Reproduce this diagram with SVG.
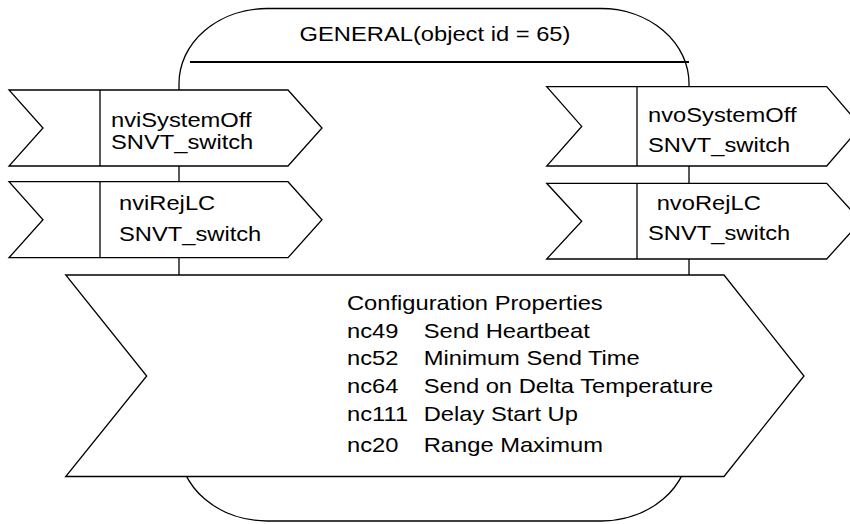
<svg xmlns="http://www.w3.org/2000/svg" width="850" height="524" viewBox="0 0 850 524">
  <style>
    .edge { fill: #ffffff; stroke: #000000; stroke-width: 1.3; stroke-linejoin: miter; }
    .divider { stroke: #000000; stroke-width: 1.3; }
    .label { font-family: "Liberation Sans", Arial, sans-serif; font-size: 21px; fill: #000000;
             transform-box: fill-box; transform-origin: 0 0; transform: scaleX(1.13); }
    .title { transform-origin: 50% 0; }
  </style>

  <!-- functional block outline -->
  <g id="object-general">
    <rect class="edge" x="179" y="8.5" width="510" height="512.5" rx="88" ry="75"/>
    <line x1="190" y1="62" x2="689" y2="62" stroke="#000000" stroke-width="2.2"/>
    <text class="label title" x="435" y="41.5" text-anchor="middle">GENERAL(object id = 65)</text>
  </g>

  <!-- network variables drawn over the block outline -->
  <g id="connectors"/>

  <g id="nviSystemOff">
    <polygon class="edge" points="9,90 288,90 322,128 288,166 9,166 43,128"/>
    <line class="divider" x1="100" y1="90" x2="100" y2="166"/>
    <text class="label" x="111" y="127.5">nviSystemOff</text>
    <text class="label" x="111" y="149">SNVT_switch</text>
  </g>

  <g id="nviRejLC">
    <polygon class="edge" points="9,181.7 288,181.7 322,219.7 288,257.7 9,257.7 43,219.7"/>
    <line class="divider" x1="100" y1="181.7" x2="100" y2="257.7"/>
    <text class="label" x="119" y="210.5">nviRejLC</text>
    <text class="label" x="119" y="241">SNVT_switch</text>
  </g>

  <g id="nvoSystemOff">
    <polygon class="edge" points="546.7,86.7 826.7,86.7 861,126.4 826.7,166 546.7,166 581.7,126.4"/>
    <line class="divider" x1="637" y1="86.7" x2="637" y2="166"/>
    <text class="label" x="648" y="122">nvoSystemOff</text>
    <text class="label" x="648" y="152">SNVT_switch</text>
  </g>

  <g id="nvoRejLC">
    <polygon class="edge" points="546.7,183.3 826.7,183.3 861,221.2 826.7,259 546.7,259 581.7,221.2"/>
    <line class="divider" x1="637" y1="183.3" x2="637" y2="259"/>
    <text class="label" x="656.7" y="210.5">nvoRejLC</text>
    <text class="label" x="648" y="240.5">SNVT_switch</text>
  </g>

  <!-- configuration properties -->
  <g id="configuration-properties">
    <polygon class="edge" points="65.7,275 724,275 804,376 724,476.5 65.7,476.5 146.7,376"/>
    <text class="label" x="347" y="310">Configuration Properties</text>
    <text class="label" x="347" y="338">nc49</text>
    <text class="label" x="423.7" y="338">Send Heartbeat</text>
    <text class="label" x="347" y="365">nc52</text>
    <text class="label" x="423.7" y="365">Minimum Send Time</text>
    <text class="label" x="347" y="393">nc64</text>
    <text class="label" x="423.7" y="393">Send on Delta Temperature</text>
    <text class="label" x="347" y="421">nc111</text>
    <text class="label" x="423.7" y="421">Delay Start Up</text>
    <text class="label" x="347" y="452">nc20</text>
    <text class="label" x="423.7" y="452">Range Maximum</text>
  </g>
</svg>
